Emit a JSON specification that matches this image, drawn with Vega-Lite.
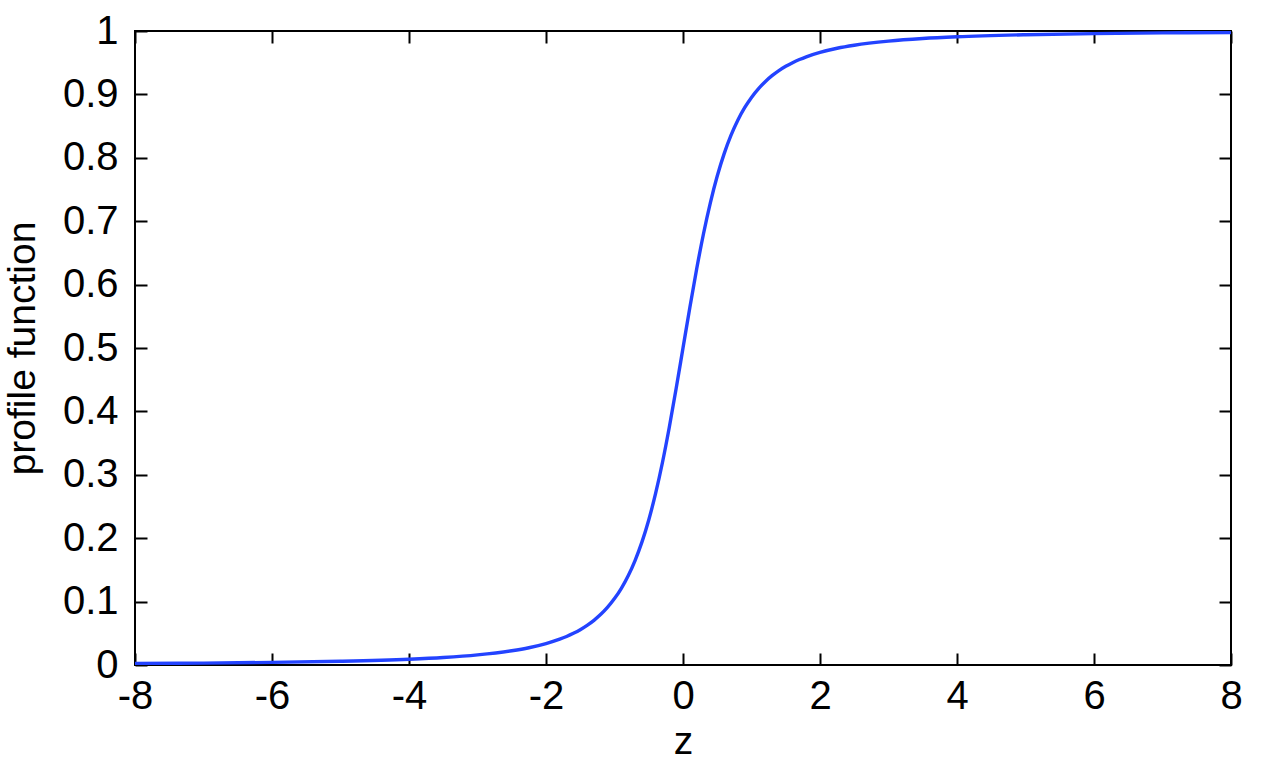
{
  "$schema": "https://vega.github.io/schema/vega-lite/v6.json",
  "width": 1096,
  "height": 634,
  "autosize": {"type": "none"},
  "padding": {"left": 135, "top": 31, "right": 43, "bottom": 97},
  "background": "white",
  "config": {
    "view": {"stroke": "#000000", "strokeWidth": 2},
    "font": "Liberation Sans",
    "axis": {
      "grid": false,
      "domain": false,
      "tickColor": "#000000",
      "tickWidth": 2,
      "tickSize": -12,
      "labelFont": "Liberation Sans",
      "labelFontSize": 40,
      "labelColor": "#000000",
      "titleFont": "Liberation Sans",
      "titleFontSize": 39,
      "titleFontWeight": "normal",
      "titleColor": "#000000"
    }
  },
  "data": {
    "values": [
      {"z": -8, "f": 0.0023}, {"z": -7, "f": 0.0030}, {"z": -6, "f": 0.0041}, {"z": -5, "f": 0.0059},
      {"z": -4, "f": 0.0091}, {"z": -3.5, "f": 0.0118}, {"z": -3, "f": 0.0159}, {"z": -2.5, "f": 0.0224},
      {"z": -2.25, "f": 0.0272}, {"z": -2, "f": 0.0338}, {"z": -1.8, "f": 0.0407}, {"z": -1.7, "f": 0.0450},
      {"z": -1.6, "f": 0.0500}, {"z": -1.5, "f": 0.0557}, {"z": -1.4, "f": 0.0625}, {"z": -1.3, "f": 0.0705},
      {"z": -1.2, "f": 0.0799}, {"z": -1.1, "f": 0.0912}, {"z": -1, "f": 0.1047}, {"z": -0.9, "f": 0.1210},
      {"z": -0.8, "f": 0.1408}, {"z": -0.7, "f": 0.1648}, {"z": -0.6, "f": 0.1938}, {"z": -0.5, "f": 0.2288},
      {"z": -0.4, "f": 0.2706}, {"z": -0.3, "f": 0.3194}, {"z": -0.2, "f": 0.3750}, {"z": -0.1, "f": 0.4360},
      {"z": 0, "f": 0.5},
      {"z": 0.1, "f": 0.5640}, {"z": 0.2, "f": 0.6250}, {"z": 0.3, "f": 0.6806}, {"z": 0.4, "f": 0.7294},
      {"z": 0.5, "f": 0.7712}, {"z": 0.6, "f": 0.8062}, {"z": 0.7, "f": 0.8352}, {"z": 0.8, "f": 0.8592},
      {"z": 0.9, "f": 0.8790}, {"z": 1, "f": 0.8953}, {"z": 1.1, "f": 0.9088}, {"z": 1.2, "f": 0.9201},
      {"z": 1.3, "f": 0.9295}, {"z": 1.4, "f": 0.9375}, {"z": 1.5, "f": 0.9443}, {"z": 1.6, "f": 0.9500},
      {"z": 1.7, "f": 0.9550}, {"z": 1.8, "f": 0.9593}, {"z": 2, "f": 0.9662}, {"z": 2.25, "f": 0.9728},
      {"z": 2.5, "f": 0.9776}, {"z": 3, "f": 0.9841}, {"z": 3.5, "f": 0.9882}, {"z": 4, "f": 0.9909},
      {"z": 5, "f": 0.9941}, {"z": 6, "f": 0.9959}, {"z": 7, "f": 0.9970}, {"z": 8, "f": 0.9977}
    ]
  },
  "layer": [
    {
      "mark": {"type": "line", "color": "#2343ff", "strokeWidth": 3.4, "interpolate": "monotone", "clip": true},
      "encoding": {
        "x": {
          "field": "z", "type": "quantitative",
          "scale": {"domain": [-8, 8], "nice": false, "zero": false},
          "axis": {
            "orient": "bottom",
            "title": "z",
            "values": [-8, -6, -4, -2, 0, 2, 4, 6, 8],
            "labelExpr": "'' + datum.value",
            "labelPadding": 23,
            "labelFlush": false,
            "titlePadding": 6
          }
        },
        "y": {
          "field": "f", "type": "quantitative",
          "scale": {"domain": [0, 1], "nice": false},
          "axis": {
            "orient": "left",
            "title": "profile function",
            "values": [0, 0.1, 0.2, 0.3, 0.4, 0.5, 0.6, 0.7, 0.8, 0.9, 1],
            "labelExpr": "'' + datum.value",
            "labelPadding": 29,
            "labelFlush": false,
            "titlePadding": 20
          }
        }
      }
    },
    {
      "mark": {"type": "point", "opacity": 0},
      "encoding": {
        "x": {
          "field": "z", "type": "quantitative",
          "scale": {"domain": [-8, 8], "nice": false, "zero": false},
          "axis": {"orient": "top", "title": null, "labels": false, "values": [-8, -6, -4, -2, 0, 2, 4, 6, 8]}
        },
        "y": {
          "field": "f", "type": "quantitative",
          "scale": {"domain": [0, 1], "nice": false},
          "axis": {"orient": "right", "title": null, "labels": false, "values": [0, 0.1, 0.2, 0.3, 0.4, 0.5, 0.6, 0.7, 0.8, 0.9, 1]}
        }
      }
    }
  ],
  "resolve": {"axis": {"x": "independent", "y": "independent"}}
}
